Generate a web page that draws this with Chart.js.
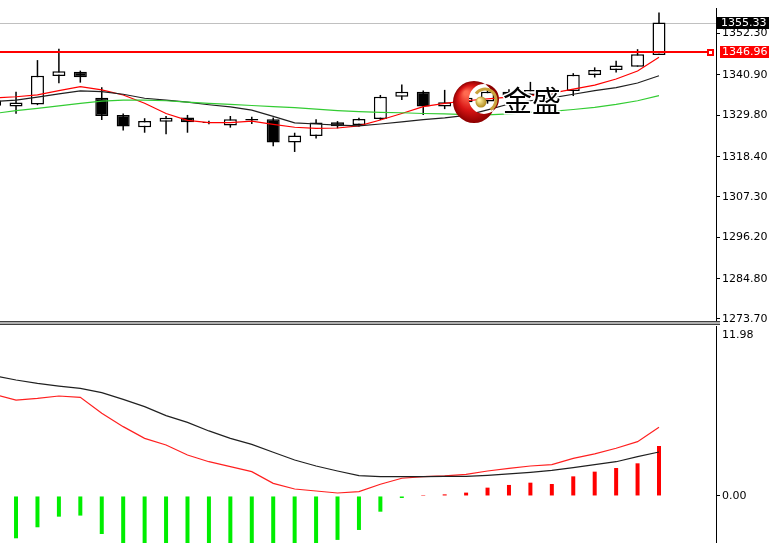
<!DOCTYPE html>
<html><head><meta charset="utf-8">
<script src="https://cdn.jsdelivr.net/npm/chart.js@4.4.1/dist/chart.umd.min.js"></script>
<style>
html,body{margin:0;padding:0;background:#fff;overflow:hidden}
#wrap{position:relative;width:769px;height:543px;background:#fff}
#main{position:absolute;left:0;top:0}
#macd{position:absolute;left:0;top:325px}
</style></head><body>
<div id="wrap"><canvas id="main" width="769" height="325"></canvas><canvas id="macd" width="769" height="218"></canvas></div>
<script>
// ---------- data ----------
const opens  = [1332.4,1332.2,1332.8,1340.6,1341.8,1334.6,1329.9,1326.5,1328.0,1329.2,1327.95,1327.0,1328.4,1328.7,1322.3,1324.1,1327.9,1327.1,1328.8,1334.9,1336.3,1332.2,1333.4,1333.6,1336.3,1335.4,1336.8,1336.5,1340.9,1342.3,1343.2,1346.4];
const highs  = [1334.6,1336.3,1345.0,1348.1,1342.1,1337.5,1330.3,1329.0,1329.6,1329.9,1328.3,1329.6,1329.4,1329.2,1325.0,1328.7,1328.2,1329.1,1335.4,1338.3,1336.6,1336.8,1335.6,1336.9,1337.0,1339.0,1337.6,1341.4,1343.0,1344.8,1348.0,1358.1];
const lows   = [1331.6,1330.2,1332.6,1338.6,1338.8,1328.5,1325.6,1325.0,1324.6,1325.0,1327.3,1326.4,1327.4,1321.3,1319.7,1323.4,1326.2,1326.7,1328.5,1334.0,1329.9,1331.5,1332.8,1333.0,1334.6,1334.6,1335.0,1335.1,1340.2,1341.6,1343.2,1346.4];
const closes = [1333.9,1333.3,1340.7,1341.9,1340.3,1329.6,1326.7,1328.2,1329.1,1327.9,1327.7,1328.7,1328.8,1322.3,1324.2,1327.8,1326.8,1328.8,1334.9,1336.3,1332.2,1333.4,1334.6,1336.3,1335.2,1336.8,1335.6,1341.0,1342.3,1343.5,1346.6,1355.33];
const maFast = [1334.6,1334.9,1335.4,1336.6,1337.7,1336.8,1335.4,1333.1,1330.3,1328.4,1327.8,1327.8,1328.2,1327.3,1326.5,1326.2,1326.3,1326.9,1328.5,1330.3,1332.2,1333.1,1333.8,1334.3,1334.8,1335.2,1335.9,1337.0,1338.1,1339.8,1342.0,1345.8];
const maMid  = [1333.6,1334.0,1334.8,1335.7,1336.5,1336.3,1335.6,1334.5,1334.0,1333.4,1332.7,1332.1,1331.2,1329.5,1327.7,1327.4,1327.1,1326.9,1327.4,1328.0,1328.6,1329.1,1329.8,1331.3,1332.9,1333.8,1334.6,1335.6,1336.6,1337.4,1338.7,1340.7];
const maSlow = [1330.3,1331.1,1331.7,1332.4,1333.1,1333.7,1334.0,1334.0,1333.8,1333.4,1333.1,1332.8,1332.5,1332.2,1331.9,1331.5,1331.1,1330.8,1330.6,1330.5,1330.3,1330.2,1330.0,1329.9,1330.2,1330.6,1330.9,1331.4,1332.0,1332.8,1333.8,1335.2];
const macdDif  = [7.55,7.14,7.27,7.44,7.34,6.15,5.16,4.29,3.79,3.05,2.55,2.18,1.81,0.94,0.52,0.37,0.22,0.32,0.87,1.32,1.44,1.49,1.61,1.86,2.06,2.23,2.33,2.80,3.13,3.55,4.04,5.11];
const macdDea  = [8.95,8.63,8.38,8.18,8.01,7.69,7.19,6.65,5.98,5.48,4.84,4.29,3.84,3.25,2.68,2.23,1.86,1.51,1.44,1.44,1.44,1.46,1.46,1.54,1.64,1.76,1.91,2.11,2.33,2.55,2.93,3.27];
const macdHist = [-2.8,-3.15,-2.33,-1.54,-1.46,-2.83,-4.06,-4.72,-4.38,-4.86,-4.58,-4.22,-4.06,-4.62,-4.32,-3.72,-3.27,-2.53,-1.17,-0.15,0.07,0.12,0.25,0.62,0.82,0.99,0.89,1.46,1.81,2.08,2.43,3.72];
const priceTicks = [1352.30,1340.90,1329.80,1318.40,1307.30,1296.20,1284.80,1273.70];
const macdTicks = [0, 11.98];
const bidPrice = 1355.33;
const levelPrice = 1346.96;
const logoText = '金盛';

// ---------- view settings ----------
const X_MIN = 0.252, X_MAX = 33.66;
const FONT = {family: 'DejaVu Sans', size: 11};
const idx = closes.map((_, i) => i);

function xScale() {
  return {type: 'linear', min: X_MIN, max: X_MAX, offset: false, display: false, grid: {display: false}};
}
function yScale(min, max, ticks, tickColorFn) {
  return {
    position: 'right', min: min, max: max, offset: false,
    afterBuildTicks: s => { s.ticks = ticks.map(v => ({value: v})); },
    afterFit: s => { s.width = 53; s.paddingTop = 0; s.paddingBottom = 0; },
    grid: {drawOnChartArea: false, drawTicks: true, tickLength: 4, color: '#000', tickColor: tickColorFn || '#000', lineWidth: 1},
    border: {display: true, color: '#000', width: 1},
    ticks: {color: '#000', font: FONT, padding: 2, autoSkip: false, callback: v => Number(v).toFixed(2)}
  };
}

function drawLogo(ctx) {
  ctx.save();
  const cx = 474, cy = 102, r = 21;
  const g = ctx.createRadialGradient(cx - 8, cy - 9, 2, cx, cy, r);
  g.addColorStop(0, '#ff6a50'); g.addColorStop(0.55, '#d81414'); g.addColorStop(1, '#8c0000');
  ctx.beginPath();
  ctx.arc(cx, cy, r, 0, Math.PI * 2);
  ctx.arc(cx + 10, cy - 3, 15, 0, Math.PI * 2, true);
  ctx.fillStyle = g; ctx.fill('evenodd');
  ctx.strokeStyle = '#c9a23c'; ctx.lineWidth = 3;
  ctx.beginPath(); ctx.arc(cx + 11, cy - 2, 11, Math.PI * 215 / 180, Math.PI * 420 / 180, false); ctx.stroke();
  const gb = ctx.createRadialGradient(cx + 5, cy - 2, 1, cx + 7, cy, 6);
  gb.addColorStop(0, '#fff0a0'); gb.addColorStop(1, '#a88010');
  ctx.beginPath(); ctx.arc(cx + 7, cy, 5.5, 0, Math.PI * 2); ctx.fillStyle = gb; ctx.fill();
  ctx.font = '29px "Noto Sans CJK SC"';
  ctx.textBaseline = 'middle'; ctx.textAlign = 'left';
  ctx.lineWidth = 3; ctx.strokeStyle = '#fff'; ctx.lineJoin = 'round';
  ctx.strokeText(logoText, 503, 101);
  ctx.fillStyle = '#000'; ctx.fillText(logoText, 503, 101);
  ctx.restore();
}

const mainOverlay = {
  id: 'mainOverlay',
  beforeDatasetsDraw(chart) {
    const ctx = chart.ctx, y = chart.scales.y, a = chart.chartArea;
    const yb = Math.round(y.getPixelForValue(bidPrice)) + 0.5;
    ctx.save();
    ctx.strokeStyle = '#c0c0c0'; ctx.lineWidth = 1;
    ctx.beginPath(); ctx.moveTo(a.left, yb); ctx.lineTo(a.right, yb); ctx.stroke();
    ctx.restore();
  },
  afterDatasetsDraw(chart) {
    const ctx = chart.ctx, y = chart.scales.y, a = chart.chartArea;
    const yl = Math.round(y.getPixelForValue(levelPrice)) - 1;
    ctx.save();
    ctx.strokeStyle = '#ff0000'; ctx.lineWidth = 2;
    ctx.beginPath(); ctx.moveTo(a.left, yl); ctx.lineTo(a.right - 8, yl); ctx.stroke();
    ctx.fillStyle = '#ff0000'; ctx.fillRect(a.right - 9, yl - 3, 7, 7);
    ctx.fillStyle = '#fff'; ctx.fillRect(a.right - 7, yl - 1, 3, 3);
    ctx.restore();
    drawLogo(ctx);
  },
  afterDraw(chart) {
    const ctx = chart.ctx, y = chart.scales.y;
    ctx.save();
    ctx.font = '11px "DejaVu Sans"'; ctx.textBaseline = 'middle'; ctx.textAlign = 'left';
    const yb = Math.round(y.getPixelForValue(bidPrice));
    ctx.fillStyle = '#000'; ctx.fillRect(717, yb - 6, 52, 12);
    ctx.fillStyle = '#fff'; ctx.fillText(bidPrice.toFixed(2), 721, yb);
    const yl = Math.round(y.getPixelForValue(levelPrice)) - 1;
    ctx.fillStyle = '#ff0000'; ctx.fillRect(720, yl - 6, 49, 12);
    ctx.fillStyle = '#fff'; ctx.fillText(levelPrice.toFixed(2), 722, yl);
    // panel separator
    ctx.fillStyle = '#b0b0b0'; ctx.fillRect(0, 321, 720, 4);
    ctx.fillStyle = '#404040'; ctx.fillRect(0, 321, 720, 1); ctx.fillRect(0, 324, 720, 1);
    ctx.restore();
  }
};

new Chart(document.getElementById('main'), {
  type: 'bar',
  data: {
    datasets: [
      {type: 'line', data: idx.map(i => ({x: i, y: maSlow[i]})), borderColor: '#33cc33', borderWidth: 1.2, pointRadius: 0, tension: 0, order: 0},
      {type: 'line', data: idx.map(i => ({x: i, y: maMid[i]})), borderColor: '#202020', borderWidth: 1.2, pointRadius: 0, tension: 0, order: 0},
      {type: 'line', data: idx.map(i => ({x: i, y: maFast[i]})), borderColor: '#ff0000', borderWidth: 1.2, pointRadius: 0, tension: 0, order: 0},
      {data: idx.map(i => ({x: i, y: [opens[i], closes[i]]})), grouped: false, barThickness: 13,
       backgroundColor: c => closes[c.dataIndex] >= opens[c.dataIndex] ? '#ffffff' : '#000000',
       borderColor: '#000', borderWidth: 1.5, borderSkipped: false, inflateAmount: 0, order: 1},
      {data: idx.map(i => ({x: i, y: [lows[i], highs[i]]})), grouped: false, barThickness: 1.5,
       backgroundColor: '#000', borderWidth: 0, inflateAmount: 0, order: 2}
    ]
  },
  options: {
    responsive: false, animation: false, events: [],
    layout: {padding: {top: 8, bottom: 5, left: 0, right: 0}},
    plugins: {legend: {display: false}, tooltip: {enabled: false}},
    scales: {x: xScale(), y: yScale(1273.42, 1359.35, priceTicks)}
  },
  plugins: [mainOverlay]
});

new Chart(document.getElementById('macd'), {
  type: 'bar',
  data: {
    datasets: [
      {type: 'line', data: idx.map(i => ({x: i, y: macdDea[i]})), borderColor: '#202020', borderWidth: 1.2, pointRadius: 0, tension: 0, order: 0},
      {type: 'line', data: idx.map(i => ({x: i, y: macdDif[i]})), borderColor: '#ff2020', borderWidth: 1.2, pointRadius: 0, tension: 0, order: 0},
      {data: idx.map(i => ({x: i, y: macdHist[i]})), grouped: false, barThickness: 4,
       backgroundColor: c => macdHist[c.dataIndex] >= 0 ? '#ff0000' : '#00ee00',
       borderWidth: 0, inflateAmount: 0, order: 1}
    ]
  },
  options: {
    responsive: false, animation: false, events: [],
    layout: {padding: {top: 1, bottom: 0, left: 0, right: 0}},
    plugins: {legend: {display: false}, tooltip: {enabled: false}},
    scales: {x: xScale(), y: yScale(-3.50, 12.65, macdTicks, c => (c.tick && c.tick.value === 0) ? '#000' : 'rgba(0,0,0,0)')}
  }
});
</script>
</body></html>
